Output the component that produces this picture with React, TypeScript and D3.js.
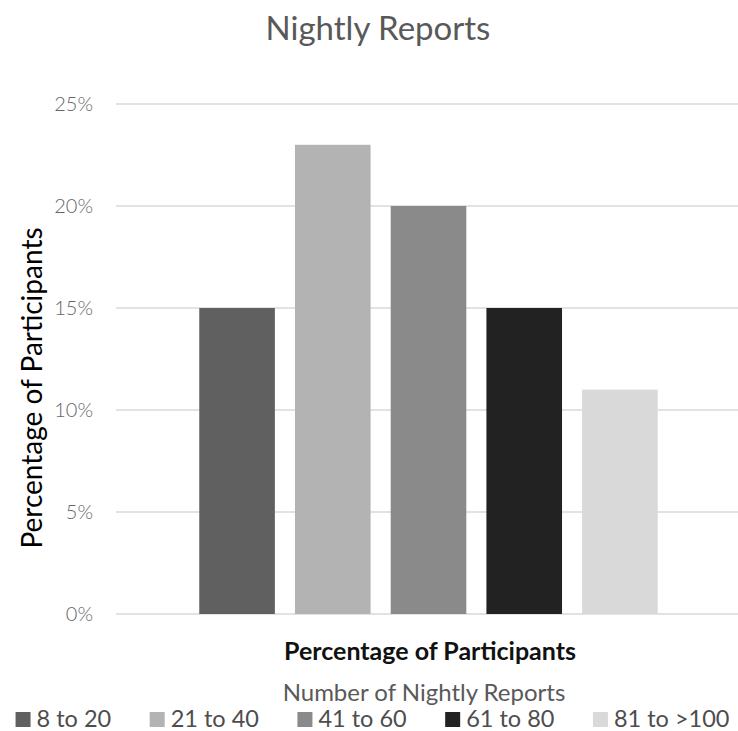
import React, { useEffect, useRef } from "react";
import * as d3 from "d3";

const categories = ["Percentage of Participants"];
const seriesNames = ["8 to 20", "21 to 40", "41 to 60", "61 to 80", "81 to >100"];
const seriesValues = [0.15, 0.23, 0.20, 0.15, 0.11];
const seriesColors = ["#606060", "#b3b3b3", "#8a8a8a", "#222222", "#d9d9d9"];
const yTicks = [0, 0.05, 0.10, 0.15, 0.20, 0.25];
const chartTitle = "Nightly Reports";
const yTitle = "Percentage of Participants";
const legendTitle = "Number of Nightly Reports";

const W = 738;
const H = 731;
const FONT = "Lato, 'Open Sans', sans-serif";

export default function App() {
  const ref = useRef<SVGSVGElement>(null);

  useEffect(() => {
    const svg = d3.select(ref.current);
    svg.selectAll("*").remove();

    const plotLeft = 116, plotRight = 741, plotTop = 104, plotBottom = 614;

    const y = d3.scaleLinear().domain([0, 0.25]).range([plotBottom, plotTop]);
    const x0 = d3.scaleBand<string>().domain(categories).range([plotLeft, plotRight]).paddingInner(0).paddingOuter(0.1816);
    const x1 = d3.scaleBand<string>().domain(seriesNames).range([0, x0.bandwidth()]).paddingInner(0.21).paddingOuter(0);

    // gridlines
    svg.append("g").selectAll("line").data(yTicks).join("line")
      .attr("x1", plotLeft).attr("x2", plotRight)
      .attr("y1", d => y(d)).attr("y2", d => y(d))
      .attr("stroke", "#d9d9d9").attr("stroke-width", 1.3);

    // tick labels
    svg.append("g").selectAll("text").data(yTicks).join("text")
      .attr("x", 93).attr("y", d => y(d)).attr("dy", "0.35em")
      .attr("text-anchor", "end")
      .attr("font-family", FONT).attr("font-size", 20).attr("font-weight", 300)
      .attr("fill", "#666666")
      .text(d => d3.format(".0%")(d));

    // bars
    const g = svg.append("g").attr("transform", `translate(${x0(categories[0])},0)`);
    g.selectAll("rect").data(seriesValues).join("rect")
      .attr("x", (d, i) => x1(seriesNames[i])!)
      .attr("width", x1.bandwidth())
      .attr("y", d => y(d))
      .attr("height", d => y(0) - y(d))
      .attr("fill", (d, i) => seriesColors[i]);

    // title
    svg.append("text").attr("x", 378).attr("y", 40).attr("text-anchor", "middle")
      .attr("font-family", FONT).attr("font-size", 33).attr("fill", "#595959").text(chartTitle);

    // y title
    svg.append("text").attr("transform", `translate(42,388) rotate(-90)`).attr("text-anchor", "middle")
      .attr("font-family", FONT).attr("font-size", 28).attr("fill", "#000").text(yTitle);

    // x category label
    svg.append("text").attr("x", 430).attr("y", 660).attr("text-anchor", "middle")
      .attr("font-family", FONT).attr("font-size", 25).attr("font-weight", 700).attr("fill", "#111").text(categories[0]);

    // legend title
    svg.append("text").attr("x", 424).attr("y", 701).attr("text-anchor", "middle")
      .attr("font-family", FONT).attr("font-size", 24).attr("fill", "#595959").text(legendTitle);

    // legend
    const lg = svg.append("g");
    const items = lg.selectAll("g").data(seriesNames).join("g");
    items.append("rect").attr("width", 15).attr("height", 15).attr("y", 712).attr("fill", (d, i) => seriesColors[i]);
    items.append("text").attr("x", 21).attr("y", 727)
      .attr("font-family", FONT).attr("font-size", 23.5).attr("fill", "#4d4d4d").text(d => d);
    const gap = 38.5;
    let cx = 0;
    const widths: number[] = [];
    items.each(function () {
      const t = d3.select(this).select("text").node() as SVGTextElement;
      widths.push(21 + t.getComputedTextLength());
    });
    const total = d3.sum(widths) + gap * (widths.length - 1);
    cx = (15 + 730) / 2 - total / 2;
    items.attr("transform", (d, i) => {
      const tx = cx;
      cx += widths[i] + gap;
      return `translate(${tx},0)`;
    });
  }, []);

  return (
    <svg ref={ref} width={W} height={H} style={{ position: "absolute", left: 0, top: 0, background: "#fff" }} />
  );
}
